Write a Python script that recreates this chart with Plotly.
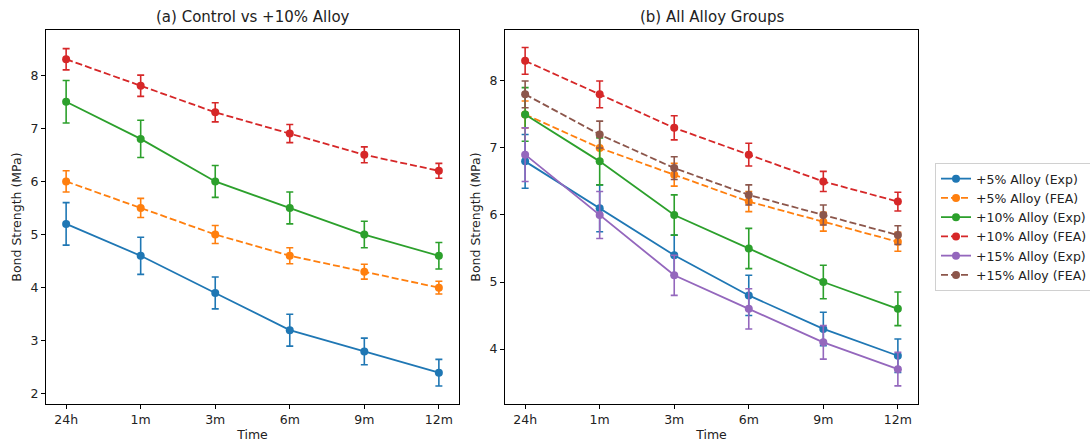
import plotly.graph_objects as go

times = ["24h", "1m", "3m", "6m", "9m", "12m"]

# Left panel (a)
ctrl_exp = [5.2, 4.6, 3.9, 3.2, 2.8, 2.4]
ctrl_exp_err = [0.4, 0.35, 0.3, 0.3, 0.25, 0.25]
ctrl_fea = [6.0, 5.5, 5.0, 4.6, 4.3, 4.0]
ctrl_fea_err = [0.2, 0.18, 0.17, 0.15, 0.14, 0.12]
a10_exp = [7.5, 6.8, 6.0, 5.5, 5.0, 4.6]
a10_exp_err = [0.4, 0.35, 0.3, 0.3, 0.25, 0.25]
a10_fea = [8.3, 7.8, 7.3, 6.9, 6.5, 6.2]
a10_fea_err = [0.2, 0.2, 0.18, 0.17, 0.15, 0.14]

# Right panel (b)
a5_exp = [6.8, 6.1, 5.4, 4.8, 4.3, 3.9]
a5_exp_err = [0.4, 0.35, 0.3, 0.3, 0.25, 0.25]
a5_fea = [7.5, 7.0, 6.6, 6.2, 5.9, 5.6]
a5_fea_err = [0.2, 0.18, 0.17, 0.15, 0.14, 0.14]
a15_exp = [6.9, 6.0, 5.1, 4.6, 4.1, 3.7]
a15_exp_err = [0.4, 0.35, 0.3, 0.3, 0.25, 0.25]
a15_fea = [7.8, 7.2, 6.7, 6.3, 6.0, 5.7]
a15_fea_err = [0.2, 0.2, 0.17, 0.15, 0.15, 0.14]

C = ["#1f77b4", "#ff7f0e", "#2ca02c", "#d62728", "#9467bd", "#8c564b"]

fig = go.Figure()


def add(y, err, color, dash, name, xa, ya, show):
    fig.add_trace(go.Scatter(
        x=times, y=y, name=name, mode="lines+markers",
        line=dict(color=color, width=1.8, dash=dash),
        marker=dict(color=color, size=8),
        error_y=dict(type="data", array=err, visible=True, color=color,
                     thickness=1.6, width=3.5),
        xaxis=xa, yaxis=ya, showlegend=show,
    ))


DASH = "7px,3px"
add(ctrl_exp, ctrl_exp_err, C[0], "solid", "Control (Exp)", "x", "y", False)
add(ctrl_fea, ctrl_fea_err, C[1], DASH, "Control (FEA)", "x", "y", False)
add(a10_exp, a10_exp_err, C[2], "solid", "+10% Alloy (Exp)", "x", "y", False)
add(a10_fea, a10_fea_err, C[3], DASH, "+10% Alloy (FEA)", "x", "y", False)

add(a5_exp, a5_exp_err, C[0], "solid", "+5% Alloy (Exp)", "x2", "y2", True)
add(a5_fea, a5_fea_err, C[1], DASH, "+5% Alloy (FEA)", "x2", "y2", True)
add(a10_exp, a10_exp_err, C[2], "solid", "+10% Alloy (Exp)", "x2", "y2", True)
add(a10_fea, a10_fea_err, C[3], DASH, "+10% Alloy (FEA)", "x2", "y2", True)
add(a15_exp, a15_exp_err, C[4], "solid", "+15% Alloy (Exp)", "x2", "y2", True)
add(a15_fea, a15_fea_err, C[5], DASH, "+15% Alloy (FEA)", "x2", "y2", True)

W, H = 1090, 443
L, R, T, B = 46, 918, 30, 404
PW = R - L
PH = B - T
FS = 12.5
axis_common = dict(showline=True, linecolor="black", linewidth=1, mirror=True,
                   ticks="outside", ticklen=4, tickcolor="black", showgrid=False,
                   zeroline=False, automargin=False,
                   tickfont=dict(size=FS, color="#222"))

fig.update_layout(
    width=W, height=H,
    margin=dict(l=L, r=W - R, t=T, b=H - B, autoexpand=False),
    paper_bgcolor="white", plot_bgcolor="white",
    font=dict(family="DejaVu Sans", size=FS, color="#222"),
    xaxis=dict(domain=[0, (459 - L) / PW], anchor="y", type="category",
               range=[-0.27, 5.27],
               title=dict(text="Time", standoff=4, font=dict(size=FS)), **axis_common),
    yaxis=dict(domain=[0, 1], anchor="x", range=[1.81, 8.85],
               tickvals=[2, 3, 4, 5, 6, 7, 8],
               title=dict(text="Bond Strength (MPa)", standoff=6, font=dict(size=FS)),
               **axis_common),
    xaxis2=dict(domain=[(505 - L) / PW, 1], anchor="y2", type="category",
                range=[-0.27, 5.27],
                title=dict(text="Time", standoff=4, font=dict(size=FS)), **axis_common),
    yaxis2=dict(domain=[0, 1], anchor="x2", range=[3.18, 8.76],
                tickvals=[4, 5, 6, 7, 8],
                title=dict(text="Bond Strength (MPa)", standoff=6, font=dict(size=FS)),
                **axis_common),
    legend=dict(x=(935 - L) / PW, y=(B - 227) / PH, xanchor="left", yanchor="middle",
                bordercolor="#d0d0d0", borderwidth=1, bgcolor="white",
                font=dict(size=FS), tracegroupgap=0, itemwidth=30),
    annotations=[
        dict(text="(a) Control vs +10% Alloy", x=((46 + 459) / 2 - L) / PW, y=1 + 13 / PH,
             xref="paper", yref="paper", showarrow=False,
             font=dict(size=15), xanchor="center", yanchor="middle"),
        dict(text="(b) All Alloy Groups", x=((505 + 918) / 2 - L) / PW, y=1 + 13 / PH,
             xref="paper", yref="paper", showarrow=False,
             font=dict(size=15), xanchor="center", yanchor="middle"),
    ],
)

fig.write_html(
    "out.html",
    config={"displayModeBar": False},
    post_script="document.body.style.margin='0';document.body.style.overflow='hidden';",
)
